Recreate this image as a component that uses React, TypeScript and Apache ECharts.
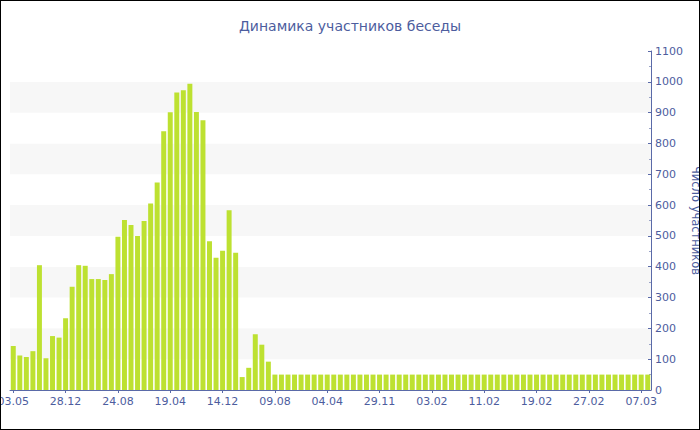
import React, { useEffect, useRef } from "react";
import * as echarts from "echarts";

const categories: string[] = [
  "03.05", "02.06", "02.07", "01.08", "31.08", "30.09", "29.10", "28.11",
  "28.12", "27.01", "26.02", "28.03", "27.04", "27.05", "26.06", "26.07",
  "24.08", "23.09", "23.10", "22.11", "22.12", "21.01", "20.02", "21.03",
  "19.04", "19.05", "18.06", "18.07", "17.08", "16.09", "16.10", "15.11",
  "14.12", "13.01", "12.02", "14.03", "13.04", "13.05", "12.06", "12.07",
  "09.08", "08.09", "08.10", "07.11", "07.12", "06.01", "05.02", "06.03",
  "04.04", "04.05", "03.06", "03.07", "02.08", "01.09", "01.10", "31.10",
  "29.11", "29.12", "28.01", "29.01", "30.01", "31.01", "01.02", "02.02",
  "03.02", "04.02", "05.02", "06.02", "07.02", "08.02", "09.02", "10.02",
  "11.02", "12.02", "13.02", "14.02", "15.02", "16.02", "17.02", "18.02",
  "19.02", "20.02", "21.02", "22.02", "23.02", "24.02", "25.02", "26.02",
  "27.02", "28.02", "01.03", "02.03", "03.03", "04.03", "05.03", "06.03",
  "07.03", "08.03",
];

const participants: number[] = [
  143, 112, 107, 126, 405, 103, 175, 170,
  233, 335, 405, 403, 360, 360, 357, 376,
  497, 552, 535, 500, 548, 605, 673, 840,
  901, 965, 973, 994, 902, 875, 483, 429,
  452, 583, 445, 42, 72, 181, 147, 92,
  50, 50, 50, 50, 50, 50, 50, 50,
  50, 50, 50, 50, 50, 50, 50, 50,
  50, 50, 50, 50, 50, 50, 50, 50,
  50, 50, 50, 50, 50, 50, 50, 50,
  50, 50, 50, 50, 50, 50, 50, 50,
  50, 50, 50, 50, 50, 50, 50, 50,
  50, 50, 50, 50, 50, 50, 50, 50,
  50, 50,
];

const TITLE = "Динамика участников беседы";
const Y_NAME = "Число участников";

const TEXT = "#4d5d9e";
const AXIS = "#5a6aa8";
const BAR = "#bde131";
const FONT = "DejaVu Sans, Verdana, sans-serif";

export default function App() {
  const ref = useRef<HTMLDivElement>(null);

  useEffect(() => {
    if (!ref.current) return;
    const chart = echarts.init(ref.current, null, { renderer: "svg" });
    chart.setOption({
      animation: false,
      backgroundColor: "#ffffff",
      textStyle: { fontFamily: FONT },
      title: {
        text: TITLE,
        left: "center",
        top: 14,
        textStyle: { color: TEXT, fontSize: 14, fontWeight: "normal", fontFamily: FONT },
      },
      grid: { left: 10, right: 49, top: 51, bottom: 40, containLabel: false, outerBoundsMode: "none" },
      xAxis: {
        type: "category",
        data: categories,
        boundaryGap: true,
        axisLine: { show: true, lineStyle: { color: AXIS, width: 1 } },
        axisTick: { show: true, alignWithLabel: true, interval: 7, length: 3, lineStyle: { color: AXIS } },
        axisLabel: { interval: 7, color: TEXT, fontSize: 11, margin: 6, fontFamily: FONT },
        splitLine: { show: false },
      },
      yAxis: {
        type: "value",
        position: "right",
        min: 0,
        max: 1100,
        interval: 100,
        name: Y_NAME,
        nameLocation: "middle",
        nameRotate: -90,
        nameGap: 39,
        nameMoveOverlap: false,
        nameTextStyle: { color: TEXT, fontSize: 11.5, fontFamily: FONT },
        axisLine: { show: true, lineStyle: { color: AXIS, width: 1 } },
        axisTick: { show: true, inside: true, length: 3, lineStyle: { color: AXIS } },
        minorTick: { show: true, splitNumber: 2, length: 2, lineStyle: { color: "#9aa3c6" } },
        axisLabel: {
          color: TEXT,
          fontSize: 11,
          margin: 4,
          fontFamily: FONT,
          formatter: (v: number) => String(v),
        },
        splitLine: { show: false },
        splitArea: { show: true, areaStyle: { color: ["#ffffff", "#f7f7f7"] } },
      },
      series: [
        {
          type: "bar",
          data: participants,
          barCategoryGap: "24%",
          itemStyle: { color: BAR },
        },
      ],
    });
    return () => chart.dispose();
  }, []);

  return (
    <div style={{ position: "fixed", left: 0, top: 0, width: 700, height: 430, background: "#fff" }}>
      <div ref={ref} style={{ position: "absolute", left: 0, top: 0, width: 700, height: 430 }} />
      <div
        style={{
          position: "absolute",
          left: 0,
          top: 0,
          width: 700,
          height: 430,
          boxSizing: "border-box",
          border: "1px solid #000",
          pointerEvents: "none",
        }}
      />
    </div>
  );
}
